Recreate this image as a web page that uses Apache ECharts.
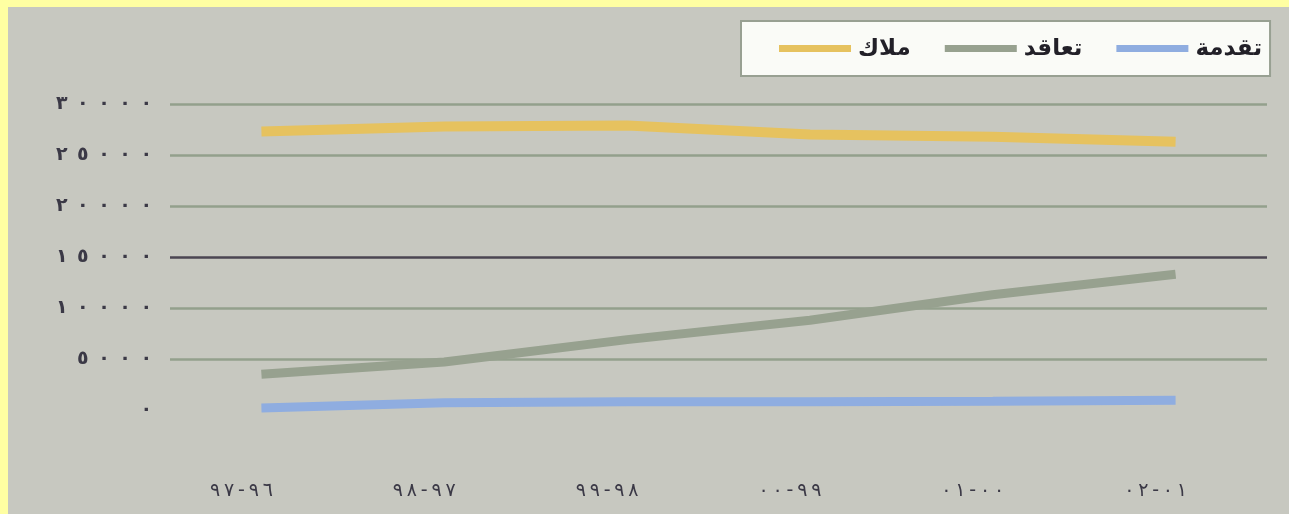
<!DOCTYPE html>
<html>
<head>
<meta charset="utf-8">
<script src="https://cdn.jsdelivr.net/npm/echarts@6/dist/echarts.min.js"></script>
<style>
html,body{margin:0;padding:0;background:#C7C8C0;overflow:hidden;}
#topband{position:fixed;left:0;top:0;right:0;height:7px;background:#FFFFA2;}
#leftband{position:fixed;left:0;top:0;bottom:0;width:8px;background:#FFFFA2;}
#chart{position:fixed;left:8px;top:7px;width:1281px;height:507px;}
</style>
</head>
<body>
<div id="topband"></div><div id="leftband"></div>
<div id="chart"></div>
<script>
// Data
const categories = ['٩٧-٩٦', '٩٨-٩٧', '٩٩-٩٨', '٠٠-٩٩', '٠١-٠٠', '٠٢-٠١'];
const seriesNames = ['ملاك', 'تعاقد', 'تقدمة'];
const malakValues = [27300, 27800, 27900, 27000, 26800, 26300];
const taaqudValues = [3500, 4700, 6900, 8800, 11300, 13300];
const taqdimaValues = [200, 700, 800, 800, 850, 950];
const yTicks = [0, 5000, 10000, 15000, 20000, 25000, 30000];

const LRO = '\u202D', PDF = '\u202C';
const arDigits = '٠١٢٣٤٥٦٧٨٩';
function toArabic(n) {
  return String(n).split('').map(c => arDigits[+c]).join('\u2002');
}

const chart = echarts.init(document.getElementById('chart'), null, {renderer: 'canvas'});
const colors = ['#E6C25F', '#97A18F', '#8FADE0'];
const option = {
  backgroundColor: '#C7C8C0',
  animation: false,
  color: colors,
  legend: {
    data: seriesNames,
    left: 733,
    top: 14,
    padding: [16, 8, 16, 38],
    itemGap: 34,
    itemWidth: 72,
    itemHeight: 7,
    icon: 'rect',
    backgroundColor: '#FAFBF7',
    borderColor: '#98A092',
    borderWidth: 2,
    borderRadius: 0,
    textStyle: {
      fontFamily: '"Noto Sans", "DejaVu Sans", sans-serif',
      fontSize: 23,
      fontWeight: 'bold',
      color: '#222028',
      padding: [0, 0, 0, 2]
    }
  },
  grid: {
    left: 162,
    right: 22,
    top: 97,
    bottom: 104
  },
  xAxis: {
    type: 'category',
    data: categories,
    boundaryGap: true,
    axisLine: {show: false},
    axisTick: {show: false},
    axisLabel: {
      margin: 72,
      fontFamily: '"DejaVu Sans", sans-serif',
      fontSize: 19,
      color: '#3b3946',
      padding: [0, 40, 0, 0],
      formatter: v => LRO + v.split('').join('\u2009') + PDF
    },
    splitLine: {show: false}
  },
  yAxis: {
    type: 'value',
    min: yTicks[0],
    max: yTicks[yTicks.length - 1],
    interval: 5000,
    axisLine: {show: false},
    axisTick: {show: false},
    axisLabel: {
      margin: 18,
      fontFamily: '"DejaVu Sans", sans-serif',
      fontSize: 19,
      fontWeight: 'bold',
      color: '#3b3946',
      formatter: v => LRO + toArabic(v) + PDF
    },
    splitLine: {
      show: true,
      lineStyle: {
        width: 2.5,
        color: ['rgba(0,0,0,0)', '#93A08C', '#93A08C', '#4B4652', '#93A08C', '#93A08C', '#93A08C']
      }
    }
  },
  series: [
    {
      name: seriesNames[0], type: 'line', data: malakValues,
      symbol: 'none', lineStyle: {width: 10, color: colors[0]}, z: 3
    },
    {
      name: seriesNames[1], type: 'line', data: taaqudValues,
      symbol: 'none', lineStyle: {width: 9, color: colors[1]}, z: 3
    },
    {
      name: seriesNames[2], type: 'line', data: taqdimaValues,
      symbol: 'none', lineStyle: {width: 9, color: colors[2]}, z: 3
    }
  ]
};
chart.setOption(option);
</script>
</body>
</html>
